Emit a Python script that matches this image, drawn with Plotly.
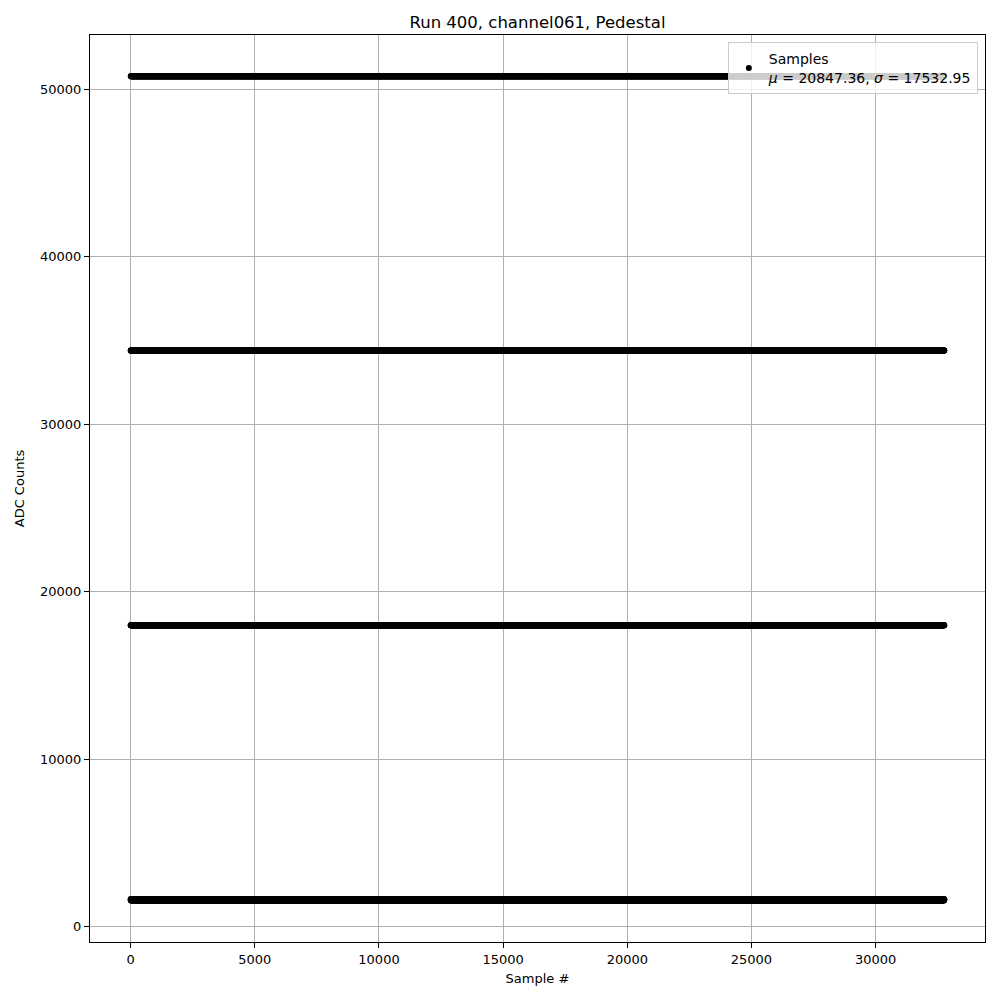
import numpy as np
import plotly.graph_objects as go

cycle_values = [1640, 17990, 34400, 1600, 50770, 17990, 34400, 1630,
                17990, 1570, 34400, 50770, 1650, 17990, 34400, 1610,
                17990, 34400, 1590, 50770, 1640, 17990, 34400, 1560,
                50770, 1620, 17990, 34400]
n_samples = 32768
title = "Run 400, channel061, Pedestal"
mu_label = 20847.36
sigma_label = 17532.95
x_ticks = [0, 5000, 10000, 15000, 20000, 25000, 30000]
y_ticks = [0, 10000, 20000, 30000, 40000, 50000]

sample_idx = np.arange(n_samples)
adc = np.resize(np.array(cycle_values), n_samples)

font = "DejaVu Sans, Liberation Sans, sans-serif"

fig = go.Figure()
fig.add_trace(go.Scatter(
    x=sample_idx, y=adc, mode="markers",
    marker=dict(color="black", size=6, line=dict(width=0)),
    name=f"Samples<br><i>μ</i> = {mu_label:.2f}, <i>σ</i> = {sigma_label:.2f}",
    showlegend=True,
))

axis_common = dict(
    showline=True, linecolor="black", linewidth=1, mirror=True,
    ticks="outside", ticklen=5, tickcolor="black", tickwidth=1,
    showgrid=True, gridcolor="#b0b0b0", gridwidth=1,
    zeroline=False, tickformat="d",
    tickfont=dict(family=font, size=13, color="black"),
)

fig.update_layout(
    width=992, height=992,
    paper_bgcolor="white", plot_bgcolor="white",
    margin=dict(l=82, r=15, t=27, b=58),
    title=dict(text=title, x=0.5, xref="paper", xanchor="center", y=0.986, yanchor="middle",
               font=dict(family=font, size=16.5, color="black")),
    xaxis=dict(range=[-1638, 34405], tickvals=x_ticks,
               title=dict(text="Sample #", font=dict(family=font, size=13, color="black"), standoff=8),
               **axis_common),
    yaxis=dict(range=[-910, 53230], tickvals=y_ticks,
               title=dict(text="ADC Counts", font=dict(family=font, size=13, color="black"), standoff=12),
               **axis_common),
    legend=dict(x=0.992, y=0.992, xanchor="right", yanchor="top",
                bgcolor="rgba(255,255,255,0.8)", bordercolor="#cccccc", borderwidth=1,
                font=dict(family=font, size=14, color="black"), itemsizing="trace"),
    showlegend=True,
)

fig.write_html("out.html")
